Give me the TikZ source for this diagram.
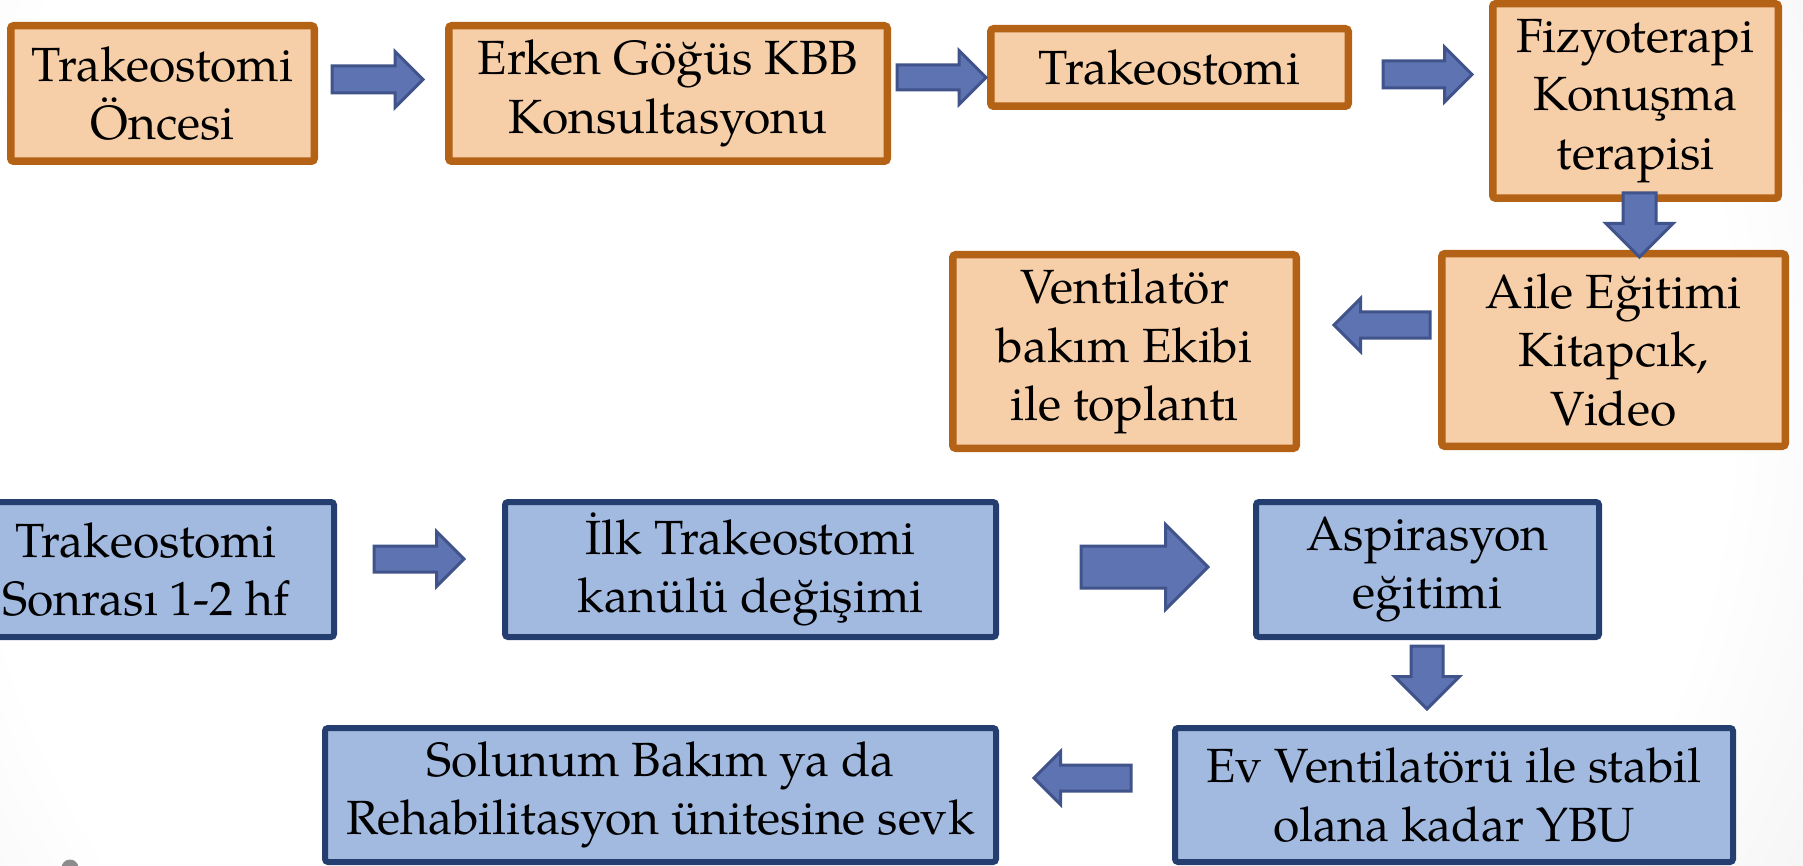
\documentclass[tikz,border=0pt]{standalone}
\usepackage{fontspec}
\setmainfont{TeX Gyre Pagella}
\usetikzlibrary{calc}
\definecolor{ofill}{RGB}{246,206,167}
\definecolor{oborder}{RGB}{180,98,22}
\definecolor{bfill}{RGB}{162,185,224}
\definecolor{bborder}{RGB}{36,63,111}
\definecolor{afill}{RGB}{94,116,178}
\definecolor{aborder}{RGB}{64,83,138}
\definecolor{bgouter}{RGB}{200,200,200}
\definecolor{dotgrey}{RGB}{140,140,140}
\pgfdeclareradialshading{bgshade}{\pgfpoint{0bp}{0bp}}{color(0bp)=(white); color(22bp)=(white); color(50bp)=(bgouter)}
\newcommand\boxfont{\fontsize{48}{58.5}\selectfont}
\newcommand\blockarr[4]{%
  \coordinate (hb) at ($(#2)!#4!(#1)$);
  \draw[arrowsty] ($(#1)!#3!90:(#2)$) -- ($(hb)!#3!90:(#2)$) -- ($(hb)!#4!90:(#2)$) -- (#2)
    -- ($(hb)!#4!-90:(#2)$) -- ($(hb)!#3!-90:(#2)$) -- ($(#1)!#3!-90:(#2)$) -- cycle;
}
\tikzset{
  obox/.style={draw=oborder, fill=ofill, line width=7.5pt, rounded corners=3pt, inner sep=0pt, align=center, font=\boxfont},
  bbox/.style={draw=bborder, fill=bfill, line width=6pt, rounded corners=3pt, inner sep=0pt, align=center, font=\boxfont},
  arrowsty/.style={fill=afill, draw=aborder, line width=3pt, line join=miter},
}
\begin{document}
\begin{tikzpicture}[x=1pt,y=-1pt]
\useasboundingbox (0,0) rectangle (1803,866);
\begin{scope}
  \clip (0,0) rectangle (1803,866);
  \shade[shading=bgshade] (-150,-620) rectangle (1850,1380);
  \fill[dotgrey] (70,868) circle (8.5);
\end{scope}

% orange boxes
\node[obox, minimum width=303.5pt, minimum height=135.5pt] (n1) at (162.5,93.5) {Trakeostomi\\Öncesi};
\node[obox, minimum width=438.5pt, minimum height=135.5pt] (n2) at (668,93.5) {Erken Göğüs KBB\\Konsultasyonu};
\node[obox, minimum width=357.5pt, minimum height=77.5pt] (n3) at (1169.5,67.5) {Trakeostomi};
\node[obox, minimum width=285.5pt, minimum height=194.5pt] (n4) at (1635.5,101) {Fizyoterapi\\Konuşma\\terapisi};
\node[obox, minimum width=343.5pt, minimum height=192.5pt] (n5) at (1613.5,350) {Aile Eğitimi\\Kitapcık,\\Video};
\node[obox, minimum width=343.5pt, minimum height=193.5pt] (n6) at (1124.5,351.5) {Ventilatör\\bakım Ekibi\\ile toplantı};

% blue boxes
\node[bbox, minimum width=376pt, minimum height=135pt] (n7) at (146,569.5) {Trakeostomi\\Sonrası 1-2 hf};
\node[bbox, minimum width=491pt, minimum height=135pt] (n8) at (750.5,569.5) {İlk Trakeostomi\\kanülü değişimi};
\node[bbox, minimum width=343pt, minimum height=135pt] (n9) at (1427.5,569.5) {Aspirasyon\\eğitimi};
\node[bbox, minimum width=671pt, minimum height=134pt] (n10) at (660.5,795) {Solunum Bakım ya da\\Rehabilitasyon ünitesine sevk};
\node[bbox, minimum width=558pt, minimum height=134pt] (n11) at (1454,795) {Ev Ventilatörü ile stabil\\olana kadar YBU};

% arrow end points
\coordinate (t1) at (332,79.5);   \coordinate (p1) at (423,79.5);
\coordinate (t2) at (897,77.5);   \coordinate (p2) at (986,77.5);
\coordinate (t3) at (1383,74.5);  \coordinate (p3) at (1472,74.5);
\coordinate (t4) at (1639.5,193); \coordinate (p4) at (1639.5,257);
\coordinate (t5) at (1430,325);   \coordinate (p5) at (1334,325);
\coordinate (t7) at (374,559);    \coordinate (p7) at (464,559);
\coordinate (t8) at (1081,567);   \coordinate (p8) at (1208,567);
\coordinate (t9) at (1427,646);   \coordinate (p9) at (1427,709);
\coordinate (t10) at (1131,778);  \coordinate (p10) at (1034,778);

\blockarr{t1}{p1}{13.5pt}{28pt}
\blockarr{t2}{p2}{12.5pt}{27pt}
\blockarr{t3}{p3}{13.5pt}{27.5pt}
\blockarr{t4}{p4}{16.5pt}{33.5pt}
\blockarr{t5}{p5}{13pt}{26.5pt}
\blockarr{t7}{p7}{13pt}{27.5pt}
\blockarr{t8}{p8}{21pt}{42.5pt}
\blockarr{t9}{p9}{16pt}{32.5pt}
\blockarr{t10}{p10}{13pt}{26.5pt}
\end{tikzpicture}
\end{document}
